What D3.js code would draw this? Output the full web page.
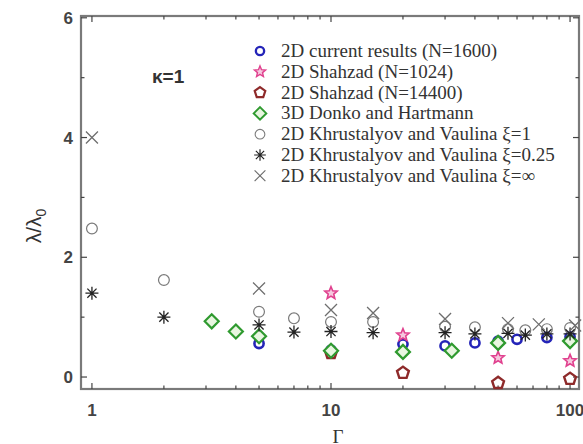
<!DOCTYPE html>
<html>
<head>
<meta charset="utf-8" />
<title>lambda vs Gamma</title>
<script src="https://cdnjs.cloudflare.com/ajax/libs/d3/7.8.5/d3.min.js"></script>
<style>
  body { margin: 0; background: #fff; }
  svg text { font-family: Arial, "Liberation Sans", sans-serif; }
  .legend text { font-family: "Liberation Serif", "Times New Roman", serif; }
</style>
</head>
<body>
<div id="chart"></div>
<script>
// data: [Gamma, lambda/lambda0]
var current1600 = [[5, 0.56], [10, 0.45], [20, 0.55], [30, 0.52], [40, 0.57], [50, 0.6], [60, 0.63], [80, 0.66], [100, 0.67]];
var shahzad1024 = [[10, 1.4], [20, 0.7], [50, 0.32], [100, 0.27]];
var shahzad14400 = [[10, 0.4], [20, 0.07], [50, -0.1], [100, -0.03]];
var donko = [[3.17, 0.93], [4, 0.76], [5, 0.68], [10, 0.44], [20, 0.42], [32, 0.44], [50, 0.57], [100, 0.6]];
var khXi1 = [[1, 2.48], [2, 1.62], [5, 1.09], [7, 0.98], [10, 0.92], [15, 0.92], [30, 0.84], [40, 0.83], [55, 0.8], [65, 0.78], [80, 0.8], [100, 0.82]];
var khXi025 = [[1, 1.4], [2, 1.0], [5, 0.87], [7, 0.75], [10, 0.76], [15, 0.74], [30, 0.74], [40, 0.72], [55, 0.73], [65, 0.7], [80, 0.72], [100, 0.72]];
var khXiInf = [[1, 4.0], [5, 1.48], [10, 1.12], [15, 1.07], [30, 0.97], [55, 0.9], [74, 0.88], [105, 0.86]];

var seriesNames = [
  "2D current results (N=1600)",
  "2D Shahzad (N=1024)",
  "2D Shahzad (N=14400)",
  "3D Donko and Hartmann",
  "2D Khrustalyov and Vaulina \u03be=1",
  "2D Khrustalyov and Vaulina \u03be=0.25",
  "2D Khrustalyov and Vaulina \u03be=\u221e"
];
var xTicks = [1, 10, 100];
var yTicks = [0, 2, 4, 6];

var W = 583, H = 444;
var pLeft = 81, pRight = 579, pTop = 16, pBottom = 389;

var x = d3.scaleLog().domain([0.9, 109]).range([pLeft, pRight]);
var y = d3.scaleLinear().domain([-0.2, 6.03]).range([pBottom, pTop]);

var svg = d3.select("#chart").append("svg")
    .attr("width", W)
    .attr("height", H);

// custom symbol shapes
function polyPath(pts) {
  return "M" + pts.map(function(p) { return p[0].toFixed(2) + "," + p[1].toFixed(2); }).join("L") + "Z";
}
function pentagon(r) {
  var pts = [];
  for (var i = 0; i < 5; i++) {
    var a = -Math.PI / 2 + i * 2 * Math.PI / 5;
    pts.push([r * Math.cos(a), r * Math.sin(a)]);
  }
  return polyPath(pts);
}
function star(r) {
  var pts = [];
  for (var i = 0; i < 10; i++) {
    var a = -Math.PI / 2 + i * Math.PI / 5;
    var rr = i % 2 == 0 ? r : r * 0.45;
    pts.push([rr * Math.cos(a), rr * Math.sin(a)]);
  }
  return polyPath(pts);
}
function diamond(r) {
  return polyPath([[0, -r], [r, 0], [0, r], [-r, 0]]);
}
function asterisk(r) {
  var d = "";
  for (var i = 0; i < 4; i++) {
    var a = i * Math.PI / 4;
    d += "M" + (r * Math.cos(a)).toFixed(2) + "," + (r * Math.sin(a)).toFixed(2) +
         "L" + (-r * Math.cos(a)).toFixed(2) + "," + (-r * Math.sin(a)).toFixed(2);
  }
  return d;
}
function cross(r) {
  return "M" + -r + "," + -r + "L" + r + "," + r + "M" + r + "," + -r + "L" + -r + "," + r;
}
function circle(r) {
  return "M" + r + ",0A" + r + "," + r + " 0 1,1 " + -r + ",0A" + r + "," + r + " 0 1,1 " + r + ",0Z";
}

var styles = [
  { path: circle(4.6), stroke: "#2424b8", fill: "none", sw: 2.6 },
  { path: star(6.5), stroke: "#e0408e", fill: "#f6c8de", sw: 1.6 },
  { path: pentagon(6.2), stroke: "#8e2a2a", fill: "none", sw: 2.4 },
  { path: diamond(7), stroke: "#2f9a2f", fill: "#e8f6e0", sw: 2.2 },
  { path: circle(5.4), stroke: "#7a7a7a", fill: "none", sw: 1.2 },
  { path: asterisk(6.5), stroke: "#222", fill: "none", sw: 1.3 },
  { path: cross(6), stroke: "#6e6e6e", fill: "none", sw: 1.3 }
];
var allSeries = [current1600, shahzad1024, shahzad14400, donko, khXi1, khXi025, khXiInf];

// frame
svg.append("rect")
    .attr("x", pLeft).attr("y", pTop)
    .attr("width", pRight - pLeft).attr("height", pBottom - pTop)
    .style("fill", "none").style("stroke", "#7a7a7a").style("stroke-width", 2.2);

// x ticks (inward, bottom and top)
var xMinor = [];
[1, 10, 100].forEach(function(dec) {
  for (var k = 2; k <= 9; k++) if (dec * k < 109) xMinor.push(dec * k);
});
var tickG = svg.append("g").style("stroke", "#444").style("stroke-width", 1.2);
xTicks.forEach(function(t) {
  tickG.append("line").attr("x1", x(t)).attr("x2", x(t)).attr("y1", pBottom).attr("y2", pBottom - 6);
  tickG.append("line").attr("x1", x(t)).attr("x2", x(t)).attr("y1", pTop).attr("y2", pTop + 6);
});
xMinor.forEach(function(t) {
  tickG.append("line").attr("x1", x(t)).attr("x2", x(t)).attr("y1", pBottom).attr("y2", pBottom - 3.5);
  tickG.append("line").attr("x1", x(t)).attr("x2", x(t)).attr("y1", pTop).attr("y2", pTop + 3.5);
});
// y ticks (inward, left and right)
var yMinor = [1, 3, 5];
yTicks.forEach(function(t) {
  tickG.append("line").attr("x1", pLeft).attr("x2", pLeft + 6).attr("y1", y(t)).attr("y2", y(t));
  tickG.append("line").attr("x1", pRight).attr("x2", pRight - 6).attr("y1", y(t)).attr("y2", y(t));
});
yMinor.forEach(function(t) {
  tickG.append("line").attr("x1", pLeft).attr("x2", pLeft + 3.5).attr("y1", y(t)).attr("y2", y(t));
  tickG.append("line").attr("x1", pRight).attr("x2", pRight - 3.5).attr("y1", y(t)).attr("y2", y(t));
});

// tick labels
svg.selectAll(".xlab")
    .data(xTicks)
    .enter().append("text")
    .attr("class", "xlab")
    .attr("x", function(d) { return x(d); })
    .attr("y", 416)
    .style("text-anchor", "middle")
    .style("font-size", "17px")
    .style("font-weight", "bold")
    .style("fill", "#444")
    .text(function(d) { return d; });

svg.selectAll(".ylab")
    .data(yTicks)
    .enter().append("text")
    .attr("class", "ylab")
    .attr("x", pLeft - 8)
    .attr("y", function(d) { return y(d) + 6; })
    .style("text-anchor", "end")
    .style("font-size", "17px")
    .style("font-weight", "bold")
    .style("fill", "#444")
    .text(function(d) { return d; });

// axis titles
svg.append("text")
    .attr("x", 338)
    .attr("y", 443)
    .style("text-anchor", "middle")
    .style("font-size", "19px")
    .style("font-family", "'Liberation Serif', serif")
    .style("fill", "#333")
    .text("\u0393");

var yt = svg.append("text")
    .attr("transform", "translate(41,226) rotate(-90)")
    .style("text-anchor", "middle")
    .style("font-size", "21px")
    .style("fill", "#333");
yt.append("tspan").text("\u03bb/\u03bb");
yt.append("tspan").attr("dy", 5).style("font-size", "14px").text("0");

svg.append("text")
    .attr("x", 152)
    .attr("y", 83)
    .style("font-size", "19px")
    .style("font-weight", "bold")
    .style("fill", "#333")
    .text("\u03ba=1");

// data points
var plot = svg.append("g");
allSeries.forEach(function(data, i) {
  var st = styles[i];
  plot.selectAll(".s" + i)
      .data(data)
      .enter().append("path")
      .attr("class", "s" + i)
      .attr("d", st.path)
      .attr("transform", function(d) { return "translate(" + x(d[0]) + "," + y(d[1]) + ")"; })
      .style("fill", st.fill)
      .style("stroke", st.stroke)
      .style("stroke-width", st.sw);
});

// legend
var legend = svg.append("g").attr("class", "legend");
var rows = legend.selectAll(".row")
    .data(seriesNames)
    .enter().append("g")
    .attr("class", "row")
    .attr("transform", function(d, i) { return "translate(260," + (51 + i * 20.8) + ")"; });
rows.append("path")
    .attr("d", function(d, i) { return styles[i].path; })
    .attr("transform", "scale(0.9)")
    .style("fill", function(d, i) { return styles[i].fill; })
    .style("stroke", function(d, i) { return styles[i].stroke; })
    .style("stroke-width", function(d, i) { return styles[i].sw; });
rows.append("text")
    .attr("x", 21)
    .attr("y", 6)
    .style("font-size", "19px")
    .style("fill", "#333")
    .text(function(d) { return d; });
</script>
</body>
</html>
